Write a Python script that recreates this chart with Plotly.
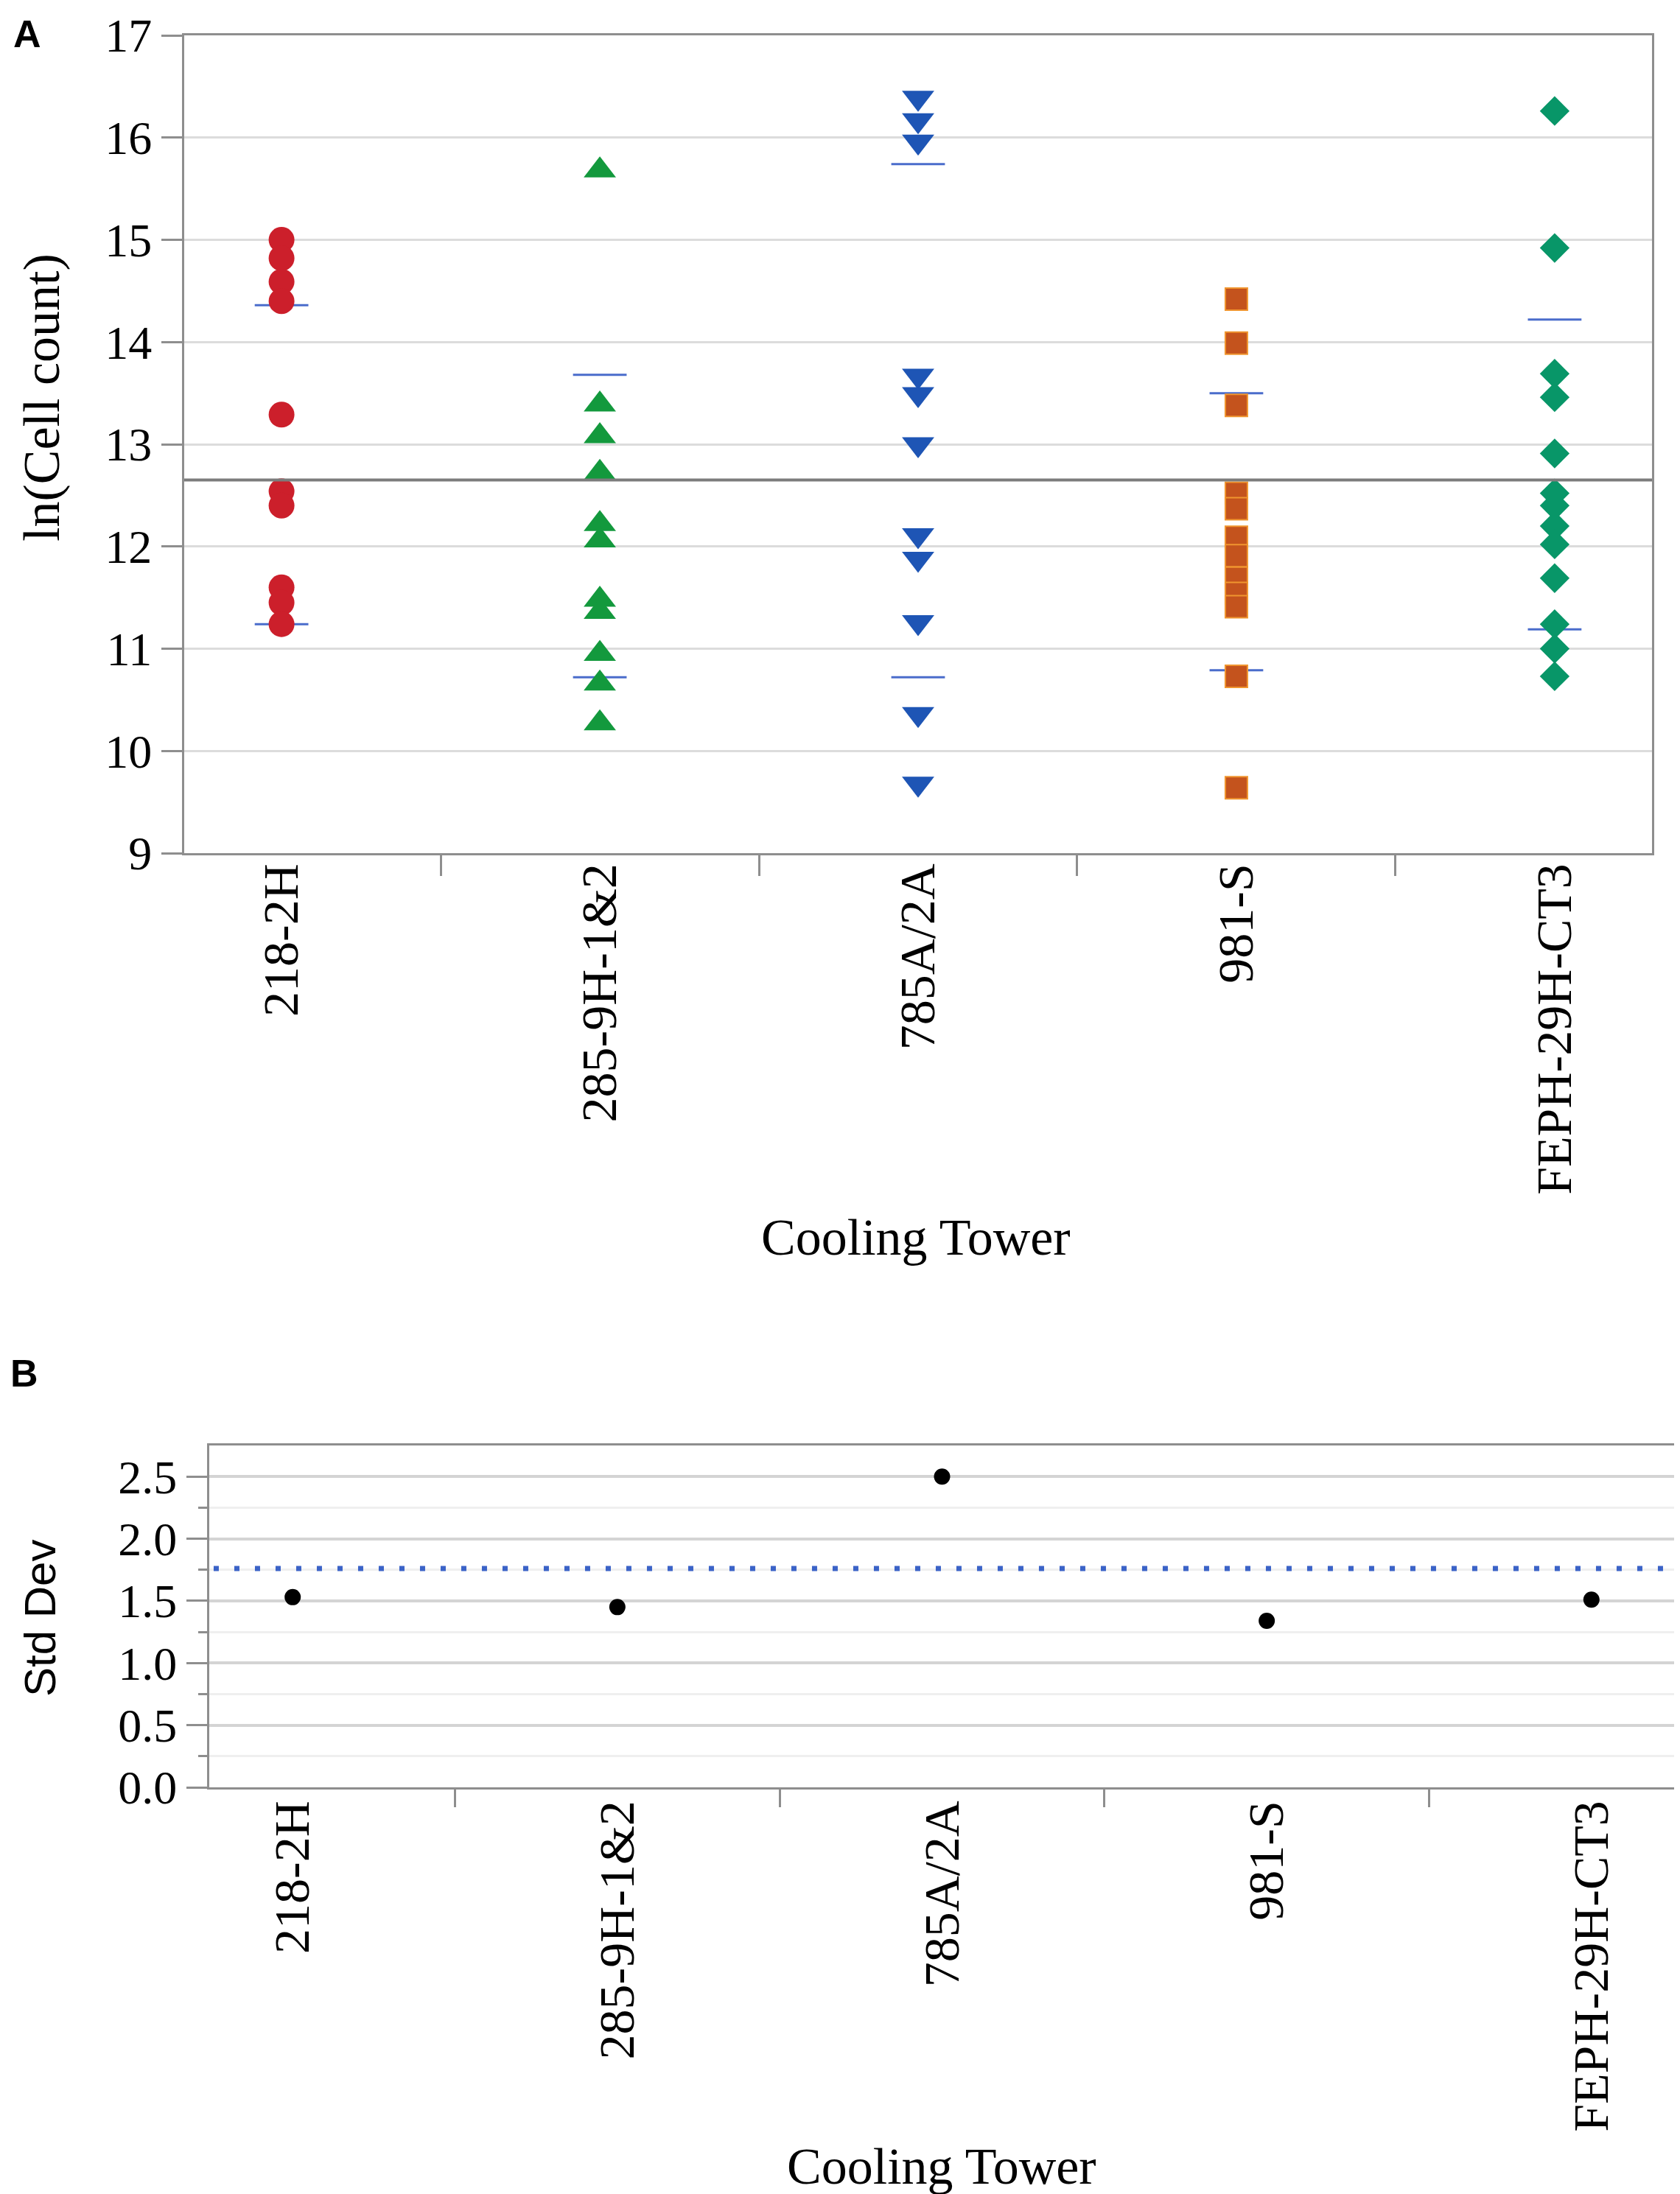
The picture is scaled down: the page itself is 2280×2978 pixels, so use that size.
import plotly.graph_objects as go

# cooling towers
towers = ["218-2H", "285-9H-1&2", "785A/2A", "981-S", "FEPH-29H-CT3"]

# ln(cell count) per tower
ln_218 = [15.00, 14.82, 14.59, 14.40, 13.29, 12.54, 12.40, 11.60, 11.45, 11.24]
ln_285 = [15.68, 13.39, 13.08, 12.72, 12.22, 12.06, 11.48, 11.36, 10.95, 10.66, 10.27]
ln_785 = [16.39, 16.17, 15.96, 13.67, 13.49, 13.00, 12.11, 11.88, 11.26, 10.36, 9.68]
ln_981 = [14.42, 13.99, 13.38, 12.52, 12.37, 12.09, 11.91, 11.69, 11.54, 11.41, 10.73, 9.64]
ln_feph = [16.26, 14.92, 13.69, 13.46, 12.91, 12.52, 12.40, 12.20, 12.02, 11.69, 11.24, 11.00, 10.73]

# mean +/- std dev lines per tower
sd_upper = [14.36, 13.68, 15.74, 13.50, 14.22]
sd_lower = [11.24, 10.72, 10.72, 10.79, 11.19]
grand_mean = 12.65

# panel B
std_dev = [1.53, 1.45, 2.50, 1.34, 1.51]
pooled_sd = 1.76

W, H = 2280, 2978
serif = "Liberation Serif"
sans = "Liberation Sans"

groups = [
    (ln_218, "circle", "#CC1F2B", None),
    (ln_285, "triangle-up", "#13993D", None),
    (ln_785, "triangle-down", "#1E55B5", None),
    (ln_981, "square", "#C4531D", "#F0952F"),
    (ln_feph, "diamond", "#089668", None),
]
sizes = {"circle": 35, "triangle-up": 38, "triangle-down": 38, "square": 30, "diamond": 31}

fig = go.Figure()

# std dev lines first so the markers sit on top
for i, t in enumerate(towers):
    fig.add_trace(go.Scatter(
        x=[t, t], y=[sd_upper[i], sd_lower[i]], mode="markers",
        marker=dict(symbol="line-ew", size=52, line=dict(color="#4A6CCB", width=3)),
        xaxis="x", yaxis="y", showlegend=False, hoverinfo="skip"))

for i, (vals, sym, col, edge) in enumerate(groups):
    fig.add_trace(go.Scatter(
        x=[towers[i]] * len(vals), y=vals, mode="markers",
        marker=dict(symbol=sym, size=sizes[sym], color=col,
                    line=dict(color=edge or col, width=2 if edge else 0)),
        xaxis="x", yaxis="y", showlegend=False))

fig.add_trace(go.Scatter(
    x=towers, y=std_dev, mode="markers",
    marker=dict(symbol="circle", size=22, color="black"),
    xaxis="x2", yaxis="y2", showlegend=False))

# grand mean in A, pooled std dev in B
fig.add_shape(type="line", xref="x domain", yref="y", x0=0, x1=1, y0=grand_mean, y1=grand_mean,
              line=dict(color="#7C7C7C", width=4))
fig.add_shape(type="line", xref="x2 domain", yref="y2", x0=0.003, x1=0.994, y0=pooled_sd, y1=pooled_sd,
              line=dict(color="#3B63C7", width=7, dash="7px,21px"))

axis_common = dict(showline=True, linecolor="#8E8E8E", linewidth=3, mirror=True,
                   ticks="outside", tickcolor="#8E8E8E", tickwidth=3, automargin=False,
                   ticklabeloverflow="allow")

fig.update_layout(
    width=W, height=H, margin=dict(l=0, r=0, t=0, b=0),
    paper_bgcolor="white", plot_bgcolor="white",
    font=dict(family=serif, color="black"),
    xaxis=dict(domain=[242 / W, 2234 / W], anchor="y", type="category",
               tickson="boundaries", ticklen=28, tickangle=-90, showgrid=False,
               ticklabelstandoff=-16, tickfont=dict(family=serif, size=68, color="black"),
               **axis_common),
    yaxis=dict(domain=[1 - 1150 / H, 1 - 40 / H], anchor="x", range=[9, 17],
               tickvals=list(range(9, 18)), ticklen=28, showgrid=True,
               gridcolor="#DCDCDC", gridwidth=3, zeroline=False,
               tickfont=dict(family=serif, size=64, color="black"), **axis_common),
    xaxis2=dict(domain=[276 / W, 2265 / W], anchor="y2", type="category",
                tickson="boundaries", ticklen=24, tickangle=-90, showgrid=False,
                ticklabelstandoff=-12, tickfont=dict(family=serif, size=68, color="black"),
                **axis_common),
    yaxis2=dict(domain=[1 - 2418 / H, 1 - 1954 / H], anchor="x2", range=[0, 2.75],
                tickvals=[0, 0.5, 1.0, 1.5, 2.0, 2.5], tickformat=".1f", ticklen=28,
                showgrid=True, gridcolor="#D4D4D4", gridwidth=4, zeroline=False,
                tickfont=dict(family=serif, size=64, color="black"),
                minor=dict(tickvals=[0.25, 0.75, 1.25, 1.75, 2.25], ticks="outside",
                           ticklen=12, tickcolor="#8E8E8E", showgrid=True,
                           gridcolor="#EFEFEF", gridwidth=3),
                **axis_common),
)


def label(text, px, py, size=70, angle=0, family=serif, bold=False, xanchor="center"):
    fig.add_annotation(text=text, x=px / W, y=1 - py / H, xref="paper", yref="paper",
                       showarrow=False, textangle=angle, xanchor=xanchor, yanchor="middle",
                       font=dict(family=family, size=size, color="black",
                                 weight="bold" if bold else "normal"))


label("A", 8, 38, size=52, family=sans, bold=True, xanchor="left")
label("B", 4, 1856, size=52, family=sans, bold=True, xanchor="left")
label("ln(Cell count)", 48, 532, angle=-90)
label("Cooling Tower", 1235, 1672)
label("Std Dev", 46, 2189, size=60, family=sans, angle=-90)
label("Cooling Tower", 1270, 2932)

fig.write_html("out.html")
